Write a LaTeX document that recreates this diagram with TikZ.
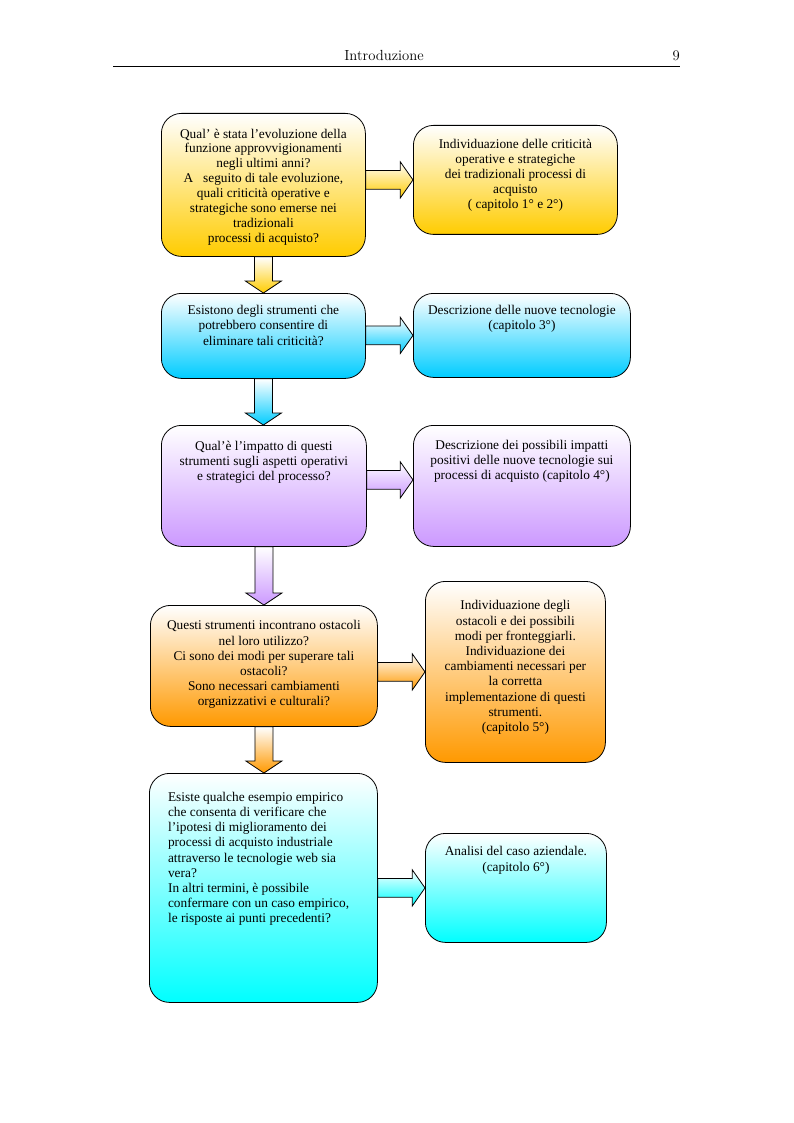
\documentclass[tikz,border=0pt]{standalone}
\usepackage{fontspec}
\usepackage{tikz}
\usetikzlibrary{calc}
\newfontfamily\boxfont{Liberation Serif}
\definecolor{gold}{RGB}{255, 204, 0}
\definecolor{sky}{RGB}{0, 204, 255}
\definecolor{lilac}{RGB}{204, 153, 255}
\definecolor{amber}{RGB}{255, 153, 0}
\definecolor{aqua}{RGB}{0, 255, 255}
\newcommand{\boxtext}[4]{\begin{minipage}[t][#2][t]{#1}\vspace*{#3}\centering
  \fontsize{10}{11.4}\selectfont #4\end{minipage}}

\begin{document}
\begin{tikzpicture}[
   x=0.75pt, y=-0.75pt,
   flowbox/.style={rectangle, draw=black, line width=0.6, rounded corners=15,
                   inner sep=0, anchor=north west, font=\boxfont,
                   top color=white, bottom color=#1},
   blockarr/.style={draw=black, line width=0.6, top color=white, bottom color=#1},
   header/.style={inner sep=0, font=\fontsize{11}{13}\selectfont}
  ]

  \useasboundingbox (0, 0) rectangle (793, 1123);

  % Page header
  \node[header, anchor=base] (title) at (384, 61) {Introduzione};
  \node[header, anchor=base east] (pagenum) at (680, 61) {9};
  \draw[line width=0.6] (113, 66) -- (680, 66);

  % Questions (left column)
  \node (q1) at (161, 113) [flowbox=gold] {\boxtext{153pt}{107.25pt}{11.5pt}{%
    \baselineskip=11.15pt
    Qual’ è stata l’evoluzione della\\ funzione approvvigionamenti\\
    negli ultimi anni?\\ A\ \ \ seguito di tale evoluzione,\\
    quali criticità operative e\\ strategiche sono emerse nei\\
    tradizionali\\ processi di acquisto?}};
  \node (q2) at (161, 293) [flowbox=sky] {\boxtext{153pt}{63.75pt}{9pt}{%
    Esistono degli strumenti che\\ potrebbero consentire di\\
    eliminare tali criticità?}};
  \node (q3) at (161, 425) [flowbox=lilac] {\boxtext{153.75pt}{90.75pt}{11.5pt}{%
    Qual’è l’impatto di questi\\ strumenti sugli aspetti operativi\\
    e strategici del processo?}};
  \node (q4) at (150, 605) [flowbox=amber] {\boxtext{170.25pt}{90.75pt}{11.5pt}{%
    Questi strumenti incontrano ostacoli\\ nel loro utilizzo?\\
    Ci sono dei modi per superare tali\\ ostacoli?\\
    Sono necessari cambiamenti\\ organizzativi e culturali?}};
  \node (q5) at (149, 773) [flowbox=aqua] {\boxtext{171pt}{171.75pt}{14pt}{%
    \raggedright\leftskip=14pt
    Esiste qualche esempio empirico\\ che consenta di verificare che\\
    l’ipotesi di miglioramento dei\\ processi di acquisto industriale\\
    attraverso le tecnologie web sia\\ vera?\\
    In altri termini, è possibile\\ confermare con un caso empirico,\\
    le risposte ai punti precedenti?}};

  % Answers (right column)
  \node (a1) at (413, 125) [flowbox=gold] {\boxtext{153pt}{81.75pt}{10pt}{%
    Individuazione delle criticità\\ operative e strategiche\\
    dei tradizionali processi di\\ acquisto\\ ( capitolo 1° e 2°)}};
  \node (a2) at (413, 293) [flowbox=sky] {\boxtext{162.75pt}{63pt}{9pt}{%
    Descrizione delle nuove tecnologie\\ (capitolo 3°)}};
  \node (a3) at (413, 425) [flowbox=lilac] {\boxtext{162.75pt}{90.75pt}{11pt}{%
    Descrizione dei possibili impatti\\ positivi delle nuove tecnologie sui\\
    processi di acquisto (capitolo 4°)}};
  \node (a4) at (425, 581) [flowbox=amber] {\boxtext{135pt}{135.75pt}{14.5pt}{%
    Individuazione degli\\ ostacoli e dei possibili\\ modi per fronteggiarli.\\
    Individuazione dei\\ cambiamenti necessari per\\ la corretta\\
    implementazione di questi\\ strumenti.\\ (capitolo 5°)}};
  \node (a5) at (425, 833) [flowbox=aqua] {\boxtext{135.75pt}{81.75pt}{10pt}{%
    Analisi del caso aziendale.\\ (capitolo 6°)}};

  % Block arrows to the right
  \foreach \B/\E/\C/\off in {q1/a1/gold/0pt, q2/a2/sky/0pt, q3/a3/lilac/4.5pt,
                             q4/a4/amber/0pt, q5/a5/aqua/0pt} {
    \path[blockarr=\C] let \p1=(\B.east), \p2=(\E.west) in
      (\x1, \y2+\off+7pt) -- (\x2-9.5pt, \y2+\off+7pt) -- (\x2-9.5pt, \y2+\off+13.5pt)
      -- (\x2, \y2+\off) -- (\x2-9.5pt, \y2+\off-13.5pt) -- (\x2-9.5pt, \y2+\off-7pt)
      -- (\x1, \y2+\off-7pt) -- cycle;
  }

  % Block arrows downwards
  \foreach \B/\E/\C in {q1/q2/gold, q2/q3/sky, q3/q4/lilac, q4/q5/amber} {
    \path[blockarr=\C] let \p1=(\B.south), \p2=(\E.north) in
      (\x1-6.75pt, \y1) -- (\x1-6.75pt, \y2+9pt) -- (\x1-13.5pt, \y2+9pt)
      -- (\x1, \y2) -- (\x1+13.5pt, \y2+9pt) -- (\x1+6.75pt, \y2+9pt)
      -- (\x1+6.75pt, \y1) -- cycle;
  }

\end{tikzpicture}
\end{document}
